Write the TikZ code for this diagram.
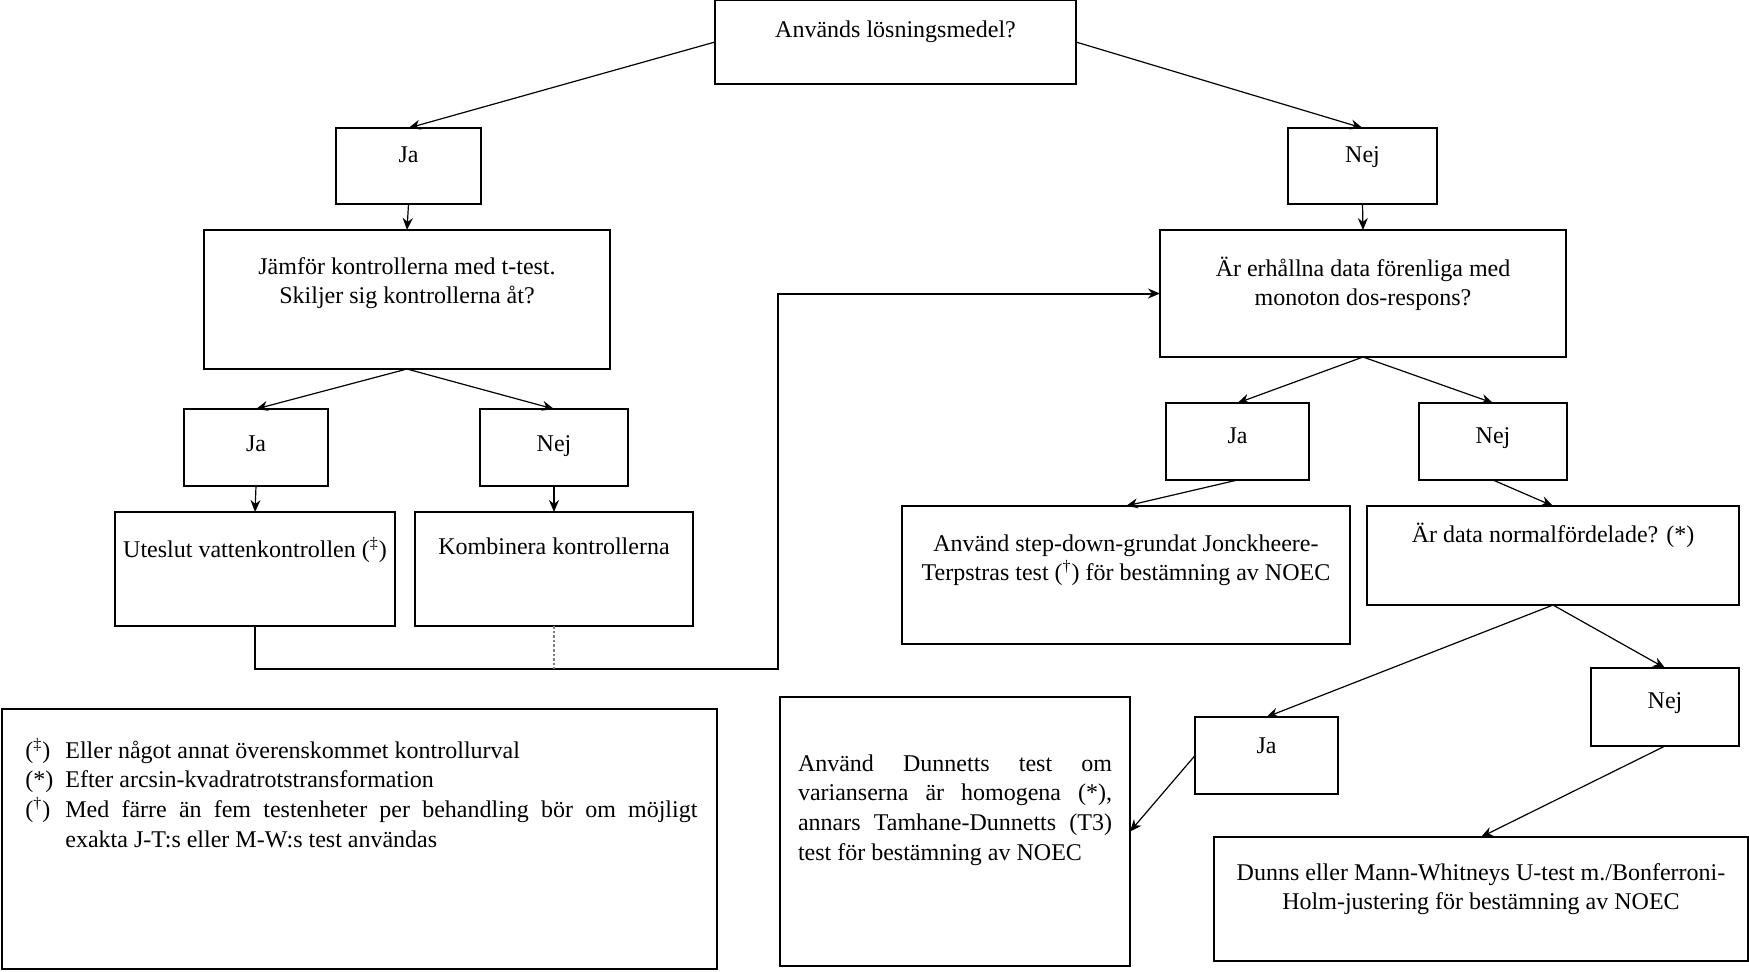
\documentclass[tikz,border=0pt]{standalone}
\usepackage{fontspec}
\setmainfont{Liberation Serif}
\usetikzlibrary{arrows.meta}
\newcommand\mkbox[5]{\node[boxframe, minimum width={(#4-#2)*0.5pt}, minimum height={(#5-#3)*0.5pt}] (#1) at ({(#2+#4)/2},{(#3+#5)/2}) {};}
\newcommand\mklbl[3]{\node[lbl, anchor=north] (#1t) at ([yshift=-#2pt]#1.north) {#3};}
\begin{document}
\begin{tikzpicture}[x=0.5pt,y=-0.5pt,
  boxframe/.style={draw, line width=1pt, inner sep=0pt, outer sep=0pt},
  lbl/.style={inner sep=0pt, font=\fontsize{12}{14.5}\selectfont, align=center},
  conn/.style={line width=0.6pt, -{Stealth[length=6pt,width=5pt]}},
]
\useasboundingbox (0,0) rectangle (1749,971);
% boxes
\mkbox{top}{715}{0}{1076}{84}
\mkbox{ja1}{336}{128}{481}{204}
\mkbox{nej1}{1288}{128}{1437}{204}
\mkbox{jamfor}{204}{230}{610}{369}
\mkbox{erh}{1160}{230}{1566}{357}
\mkbox{ja2}{184}{409}{328}{486}
\mkbox{nej2}{480}{409}{628}{486}
\mkbox{utes}{115}{512}{395}{626}
\mkbox{komb}{415}{512}{693}{626}
\mkbox{ja3}{1166}{403}{1309}{480}
\mkbox{nej3}{1419}{403}{1567}{480}
\mkbox{jt}{902}{506}{1350}{644}
\mkbox{norm}{1367}{506}{1739}{605}
\mkbox{nej4}{1591}{668}{1739}{746}
\mkbox{ja4}{1195}{717}{1338}{794}
\mkbox{dun}{780}{697}{1130}{966}
\mkbox{dunns}{1214}{837}{1748}{961}
\mkbox{fn}{2}{709}{717}{969}
% labels
\mklbl{top}{10}{Används lösningsmedel?}
\mklbl{ja1}{9}{Ja}
\mklbl{nej1}{9}{Nej}
\mklbl{jamfor}{13.5}{Jämför kontrollerna med t-test.\\Skiljer sig kontrollerna åt?}
\mklbl{erh}{13.5}{Är erhållna data förenliga med\\monoton dos-respons?}
\mklbl{ja2}{13}{Ja}
\mklbl{nej2}{13}{Nej}
\mklbl{utes}{12.5}{Uteslut vattenkontrollen (\textsuperscript{‡})}
\mklbl{komb}{12.5}{Kombinera kontrollerna}
\mklbl{ja3}{12}{Ja}
\mklbl{nej3}{12}{Nej}
\mklbl{jt}{14}{Använd step-down-grundat Jonckheere-\\Terpstras test (\textsuperscript{†}) för bestämning av NOEC}
\mklbl{norm}{8.5}{Är data normalfördelade? (*)}
\mklbl{nej4}{12}{Nej}
\mklbl{ja4}{10}{Ja}
\node[lbl, anchor=north, text width=157pt, align=justify, font=\fontsize{12}{14.9}\selectfont] (dunt) at ([yshift=-28.5pt]dun.north) {\hyphenpenalty=10000 Använd Dunnetts test om\linebreak varianserna är homogena (*),\linebreak annars Tamhane-Dunnetts (T3)\linebreak test för bestämning av NOEC};
\mklbl{dunns}{13}{Dunns eller Mann-Whitneys U-test m./Bonferroni-\\Holm-justering för bestämning av NOEC}
\node[lbl, anchor=north west, text width=336pt, align=justify, font=\fontsize{12}{14.8}\selectfont] (fnt) at ([xshift=11.5pt,yshift=-14.5pt]fn.north west) {%
\hangindent=20pt\hangafter=1\noindent\makebox[20pt][l]{(\textsuperscript{‡})}Eller något annat överenskommet kontrollurval\par
\hangindent=20pt\hangafter=1\noindent\makebox[20pt][l]{(*)}Efter arcsin-kvadratrotstransformation\par
\hangindent=20pt\hangafter=1\noindent\makebox[20pt][l]{(\textsuperscript{†})}Med färre än fem testenheter per behandling bör om möjligt\linebreak exakta J-T:s eller M-W:s test användas\par};
% connectors
\draw[conn] (top.west) -- (ja1.north);
\draw[conn] (top.east) -- (nej1.north);
\draw[conn] (ja1.south) -- (jamfor.north);
\draw[conn] (nej1.south) -- (erh.north);
\draw[conn] (jamfor.south) -- (ja2.north);
\draw[conn] (jamfor.south) -- (nej2.north);
\draw[conn] (ja2.south) -- (utes.north);
\draw[conn] (nej2.south) -- (komb.north);
\coordinate (c1) at (778,669);
\draw[line width=1pt, -{Stealth[length=6pt,width=5pt]}] (utes.south) |- (c1) |- (erh.west);
\draw[line width=1.3pt, draw=gray, densely dotted] (komb.south) -- (komb.south |- c1);
\draw[conn] (erh.south) -- (ja3.north);
\draw[conn] (erh.south) -- (nej3.north);
\draw[conn] (ja3.south) -- (jt.north);
\draw[conn] (nej3.south) -- (norm.north);
\draw[conn] (norm.south) -- (ja4.north);
\draw[conn] (norm.south) -- (nej4.north);
\draw[conn] (ja4.west) -- (dun.east);
\draw[conn] (nej4.south) -- (dunns.north);
\end{tikzpicture}
\end{document}
